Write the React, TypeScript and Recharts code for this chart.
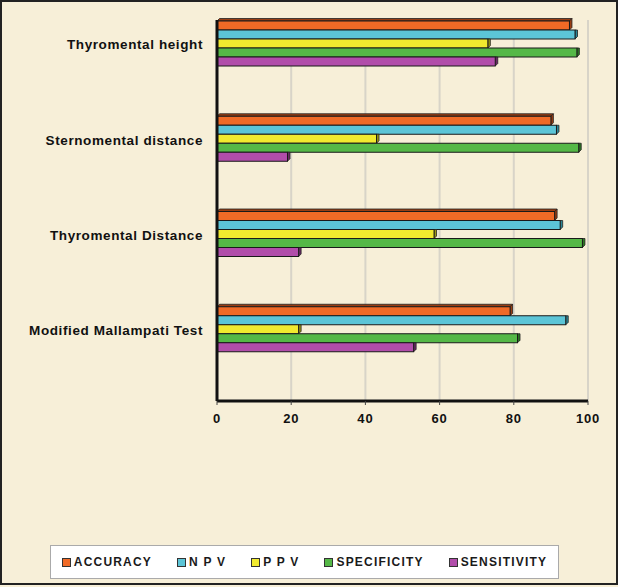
import { BarChart, Bar, XAxis, YAxis, CartesianGrid, Legend } from "recharts";

// test names, top to bottom
const tests = [
  "Thyromental height",
  "Sternomental distance",
  "Thyromental Distance",
  "Modified Mallampati Test",
];

// values in %
const accuracy = [95, 90, 91, 79];
const npv = [96.5, 91.5, 92.5, 94];
const ppv = [73, 43, 58.5, 22];
const specificity = [97, 97.5, 98.5, 81];
const sensitivity = [75, 19, 22, 53];

const xTicks = [0, 20, 40, 60, 80, 100];

const series = [
  { key: "accuracy", label: "ACCURACY", color: "#F06A26", side: "#9a3d12" },
  { key: "npv", label: "N P V", color: "#5CC5D7", side: "#2b8797" },
  { key: "ppv", label: "P P V", color: "#F1EA2F", side: "#9c9612" },
  { key: "specificity", label: "SPECIFICITY", color: "#55B847", side: "#2c7623" },
  { key: "sensitivity", label: "SENSITIVITY", color: "#B14DAA", side: "#6b2866" },
];

const data = tests.map((name, i) => ({
  name,
  accuracy: accuracy[i],
  npv: npv[i],
  ppv: ppv[i],
  specificity: specificity[i],
  sensitivity: sensitivity[i],
}));

const sans = "'Liberation Sans', Arial, sans-serif";

function renderBar(props: any, side: string, first: boolean) {
  const { x, y, width, height, fill } = props;
  if (!width || width <= 0) return <g />;
  const d = 2.5;
  return (
    <g>
      {first && (
        <polygon
          points={`${x},${y} ${x + d},${y - d} ${x + width + d},${y - d} ${x + width},${y}`}
          fill={side}
          stroke="#222"
          strokeWidth={0.8}
        />
      )}
      <polygon
        points={`${x + width},${y} ${x + width + d},${y - (first ? d : 0)} ${x + width + d},${y + height - d} ${x + width},${y + height}`}
        fill={side}
        stroke="#222"
        strokeWidth={0.8}
      />
      <rect x={x} y={y} width={width} height={height} fill={fill} stroke="#1a1a1a" strokeWidth={1} />
    </g>
  );
}

function LegendBox() {
  return (
    <div
      style={{
        boxSizing: "border-box",
        height: 34,
        background: "#fff",
        border: "1px solid #aaa",
        display: "flex",
        alignItems: "center",
        justifyContent: "center",
        gap: 25,
        fontFamily: sans,
        fontWeight: "bold",
        fontSize: 12,
        letterSpacing: 1.2,
        color: "#1a1a1a",
        whiteSpace: "nowrap",
      }}
    >
      {series.map((s) => (
        <span key={s.key} style={{ display: "flex", alignItems: "center" }}>
          <span
            style={{
              display: "inline-block",
              width: 7,
              height: 7,
              background: s.color,
              border: "1px solid #333",
              marginRight: 3,
            }}
          />
          {s.label}
        </span>
      ))}
    </div>
  );
}

export default function App() {
  return (
    <div
      style={{
        position: "absolute",
        top: 0,
        left: 0,
        width: 618,
        height: 587,
        background: "#F7EFD8",
      }}
    >
      <div
        style={{
          position: "absolute",
          left: 0,
          top: 0,
          width: 614,
          height: 581,
          border: "2px solid #222",
        }}
      />
      <div style={{ position: "absolute", left: 0, top: 0 }}>
        <BarChart
          width={618}
          height={587}
          data={data}
          layout="vertical"
          margin={{ top: 20, right: 30, left: 0, bottom: 122 }}
          barCategoryGap={24}
          barGap={0}
        >
          <CartesianGrid horizontal={false} stroke="#d8d4c8" strokeWidth={2} />
          <XAxis
            type="number"
            domain={[0, 100]}
            ticks={xTicks}
            interval={0}
            axisLine={{ stroke: "#111", strokeWidth: 3 }}
            tickLine={{ stroke: "#444" }}
            tickSize={4}
            tickMargin={9}
            height={30}
            tick={{ fontFamily: sans, fontWeight: "bold", fontSize: 13, fill: "#111", letterSpacing: 0.8 }}
          />
          <XAxis
            xAxisId="top"
            orientation="top"
            type="number"
            domain={[0, 100]}
            height={0}
            tick={false}
            tickLine={false}
            axisLine={{ stroke: "#666", strokeWidth: 1.5 }}
          />
          <YAxis
            type="category"
            dataKey="name"
            width={217}
            padding={{ top: -23, bottom: 23 }}
            axisLine={{ stroke: "#111", strokeWidth: 3 }}
            tickLine={false}
            tickSize={0}
            tickMargin={14}
            tick={{
              fontFamily: sans,
              fontWeight: "bold",
              fontSize: 13.5,
              fill: "#111",
              letterSpacing: 0.6,
            }}
          />
          <YAxis
            yAxisId="frame"
            orientation="right"
            type="category"
            dataKey="name"
            width={0}
            tick={false}
            tickLine={false}
            axisLine={{ stroke: "#777", strokeWidth: 1.5 }}
          />
          <Legend
            verticalAlign="bottom"
            content={() => <LegendBox />}
            wrapperStyle={{ left: 50, width: 509, bottom: 8 }}
          />
          {series.map((s, i) => (
            <Bar
              key={s.key}
              dataKey={s.key}
              name={s.label}
              fill={s.color}
              isAnimationActive={false}
              shape={(p: any) => renderBar(p, s.side, i === 0)}
            />
          ))}
        </BarChart>
      </div>
    </div>
  );
}
